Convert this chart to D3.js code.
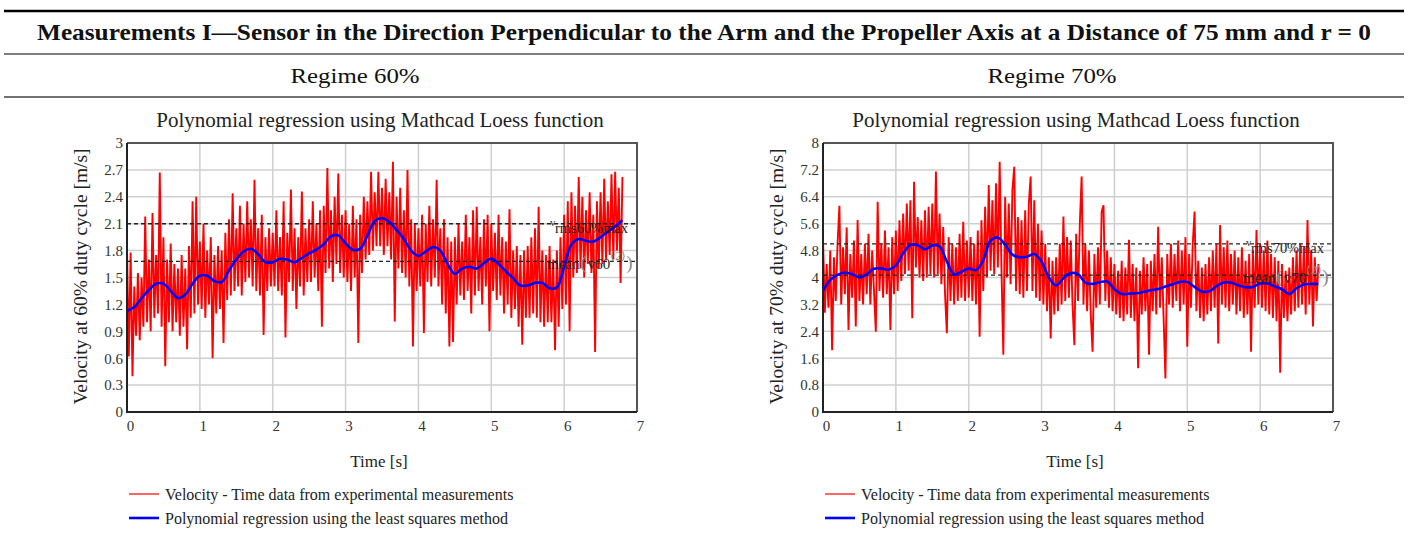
<!DOCTYPE html>
<html><head><meta charset="utf-8">
<script src="https://cdn.jsdelivr.net/npm/d3@7"></script>
<style>
body{margin:0;background:#fff}
svg{display:block}
text{font-family:"Liberation Serif","Times New Roman",serif}
</style>
</head><body>
<svg id="c" width="1408" height="538"></svg>
<script>
// ---------- text ----------
const pageTitle = "Measurements I\u2014Sensor in the Direction Perpendicular to the Arm and the Propeller Axis at a Distance of 75 mm and r = 0";
const regimeLabels = ["Regime 60%", "Regime 70%"];
const chartTitle = "Polynomial regression using Mathcad Loess function";
const yLabels = ["Velocity at 60% duty cycle [m/s]", "Velocity at 70% duty cycle [m/s]"];
const xLabel = "Time [s]";
const legendLabels = ["Velocity - Time data from experimental measurements", "Polynomial regression using the least squares method"];
const rmsNames = ["rms60%max", "rms70%max"];
const meanNames = ["v60", "v70"];

// ---------- ticks ----------
const xTicks = [0, 1, 2, 3, 4, 5, 6, 7];
const yTicks60 = [0, 0.3, 0.6, 0.9, 1.2, 1.5, 1.8, 2.1, 2.4, 2.7, 3];
const yTicks70 = [0, 0.8, 1.6, 2.4, 3.2, 4, 4.8, 5.6, 6.4, 7.2, 8];

// ---------- data ----------
const sampleStep = 0.025;   // s between measured samples
const fitStep = 0.1;        // s between regression points

const v60 = [
1.83,0.62,1.78,0.40,1.40,0.85,1.55,0.80,1.50,0.95,2.18,1.00,1.70,0.90,2.22,1.05,1.75,1.10,2.67,0.95,
1.95,0.51,1.70,1.00,1.88,0.90,1.65,1.00,1.60,0.85,1.75,0.95,1.60,0.70,1.85,1.05,2.35,1.10,2.40,1.20,
1.90,1.15,2.10,1.05,1.80,1.20,1.95,0.60,1.75,1.10,1.85,1.15,1.80,0.77,2.00,1.25,2.15,1.30,2.44,1.35,
2.05,1.40,2.30,1.30,2.10,1.45,2.35,1.50,2.15,1.40,2.59,1.35,2.05,1.30,2.20,0.86,1.95,1.35,2.05,1.40,
2.00,1.40,2.25,1.35,1.95,1.30,2.35,0.83,2.00,1.45,2.48,1.35,2.05,1.15,1.95,1.40,2.46,1.30,2.05,1.45,
2.15,1.45,2.35,1.50,2.10,1.35,2.25,0.95,2.30,1.55,2.72,1.60,2.25,1.45,2.40,1.65,2.66,1.55,2.20,1.50,
2.25,1.45,2.10,1.35,2.30,1.50,2.15,0.77,2.20,1.55,2.40,1.70,2.35,1.75,2.68,1.80,2.45,1.85,2.68,1.85,
2.50,1.75,2.60,1.85,2.45,1.70,2.79,1.01,2.40,1.60,2.50,1.55,2.25,1.50,2.70,1.40,2.15,0.73,2.10,1.35,
2.05,1.40,2.20,0.88,2.10,1.45,2.30,1.40,2.15,1.50,2.59,1.40,2.05,1.20,2.15,1.10,1.95,0.73,1.90,0.78,
1.95,1.20,2.10,1.30,1.90,1.25,2.20,1.35,1.95,1.10,2.25,1.30,2.29,1.35,1.95,1.20,2.15,1.40,2.20,0.90,
2.10,1.35,2.00,1.25,2.20,1.30,1.95,1.10,1.90,1.20,2.26,1.05,1.80,1.15,1.85,0.95,1.75,0.75,1.80,1.05,
1.85,1.05,1.95,1.10,2.05,1.05,2.29,1.00,1.80,0.95,1.75,1.00,1.85,1.00,1.70,0.69,1.80,0.95,1.95,1.15,
2.20,1.20,2.35,0.90,2.45,1.50,2.30,1.55,2.62,1.60,2.40,1.50,2.25,1.65,2.45,1.55,2.20,0.67,2.35,1.60,
2.45,1.65,2.60,1.70,2.35,1.75,2.65,1.70,2.68,1.80,2.50,1.44,2.62
];
const fit60 = [
1.13,1.17,1.27,1.36,1.43,1.43,1.35,1.27,1.31,1.43,
1.52,1.52,1.46,1.45,1.58,1.70,1.79,1.82,1.76,1.67,
1.67,1.71,1.70,1.67,1.72,1.77,1.81,1.87,1.96,1.97,
1.88,1.81,1.82,1.97,2.13,2.16,2.12,2.03,1.93,1.80,
1.74,1.79,1.84,1.80,1.65,1.54,1.60,1.62,1.60,1.66,
1.71,1.65,1.57,1.49,1.41,1.41,1.44,1.44,1.38,1.39,
1.62,1.87,1.93,1.91,1.90,1.95,2.01,2.07,2.14
];
const v70 = [
5.17,2.95,4.40,3.10,4.80,1.84,4.60,3.30,5.00,6.13,3.20,4.90,3.50,5.49,2.44,4.70,3.40,5.10,2.54,5.71,
3.30,4.70,3.20,5.00,3.50,5.30,3.20,4.80,3.60,2.39,6.25,3.60,5.00,3.40,5.40,3.50,4.90,2.44,5.20,3.50,
5.40,3.60,5.70,3.90,5.90,4.10,6.20,4.20,6.30,2.79,6.85,4.30,5.80,4.00,5.70,3.90,6.00,4.00,6.10,4.10,
6.20,4.00,7.15,4.10,5.90,3.80,5.50,3.50,2.34,5.20,3.30,5.00,3.20,4.90,3.30,5.30,3.40,5.66,3.30,5.10,
3.40,5.20,3.30,5.00,3.20,5.40,2.24,5.70,3.60,6.10,4.00,6.75,4.20,6.30,4.10,6.80,4.30,7.44,4.20,1.70,
6.40,4.00,6.20,3.80,6.60,7.29,3.60,5.80,3.50,5.70,3.40,6.00,3.60,6.20,7.00,3.60,6.30,3.40,5.60,3.30,
5.40,3.20,5.00,3.00,4.60,2.19,4.50,2.90,4.60,3.00,5.00,3.20,5.81,3.30,5.20,3.40,5.10,3.20,1.99,5.30,
3.30,5.60,7.00,3.20,5.00,3.00,4.80,2.90,1.79,4.70,3.10,4.90,3.20,5.96,6.15,3.30,4.80,3.10,4.60,3.00,
4.40,2.90,4.20,2.80,4.50,2.70,4.30,2.90,5.12,2.80,4.40,2.70,4.30,1.30,4.20,2.90,4.60,3.00,4.40,1.70,
4.50,3.00,4.70,2.90,5.51,3.10,4.60,2.80,1.00,4.70,3.20,5.00,3.10,4.70,3.30,5.10,3.00,4.80,3.20,5.20,
1.94,4.70,3.10,5.00,5.96,3.00,4.50,2.80,4.30,2.70,4.40,2.90,4.60,3.00,4.80,3.10,5.00,2.04,5.56,3.20,
4.90,3.10,5.10,3.00,4.70,3.20,4.80,2.90,4.60,3.00,4.90,2.80,4.50,2.90,4.70,1.79,4.80,3.10,5.41,3.20,
5.00,3.10,4.80,3.00,5.10,2.90,4.70,2.80,4.60,2.70,4.50,1.17,4.40,2.80,4.20,2.70,4.30,2.90,4.60,3.00,
4.80,3.10,5.00,3.20,4.90,2.90,5.71,3.20,4.80,2.54,4.60,3.30,4.40
];
const fit70 = [
3.61,3.93,4.08,4.15,4.10,4.00,4.10,4.26,4.27,4.23,
4.36,4.72,4.97,4.96,4.84,4.95,4.92,4.47,4.09,4.17,
4.27,4.22,4.52,5.10,5.19,4.97,4.68,4.60,4.62,4.70,
4.47,4.00,3.76,3.98,4.13,4.10,3.85,3.81,3.86,3.88,
3.65,3.51,3.52,3.53,3.57,3.62,3.66,3.73,3.80,3.87,
3.87,3.72,3.58,3.59,3.74,3.85,3.85,3.77,3.71,3.72,
3.82,3.82,3.74,3.65,3.51,3.68,3.79,3.81,3.81
];
const rmsValues = [2.10, 5.00];
const meanValues = [1.68, 4.07];

// ---------- drawing ----------
const svg = d3.select("#c");

// header table
svg.append("line").attr("x1",4).attr("x2",1404).attr("y1",11).attr("y2",11).attr("stroke","#000").attr("stroke-width",2.5);
svg.append("text").attr("x",37).attr("y",40).attr("font-size",23).attr("font-weight","bold").attr("fill","#111")
  .attr("textLength",1334).attr("lengthAdjust","spacingAndGlyphs").text(pageTitle);
svg.append("line").attr("x1",4).attr("x2",1404).attr("y1",54).attr("y2",54).attr("stroke","#555").attr("stroke-width",1.3);
svg.append("line").attr("x1",4).attr("x2",1404).attr("y1",97).attr("y2",97).attr("stroke","#444").attr("stroke-width",1.3);

const charts = [
  {left:127, right:637, regimeX:355, data:v60, fit:fit60, yMax:3, yTicks:yTicks60, idx:0},
  {left:823, right:1333, regimeX:1052, data:v70, fit:fit70, yMax:8, yTicks:yTicks70, idx:1}
];
const plotTop = 143, plotBottom = 412;

charts.forEach(c => {
  const g = svg.append("g");
  const x = d3.scaleLinear().domain([0, 7]).range([c.left, c.right]);
  const y = d3.scaleLinear().domain([0, c.yMax]).range([plotBottom, plotTop]);
  const cx = (c.left + c.right) / 2;

  g.append("text").attr("x", c.regimeX).attr("y", 83).attr("text-anchor","middle")
    .attr("font-size", 21).attr("fill","#111").attr("textLength",129).attr("lengthAdjust","spacingAndGlyphs")
    .text(regimeLabels[c.idx]);

  g.append("text").attr("x", cx - 2).attr("y", 127).attr("text-anchor","middle")
    .attr("font-size", 21).attr("fill","#222").text(chartTitle);

  // grid
  g.append("g").selectAll("line").data(xTicks.slice(1, -1)).join("line")
    .attr("x1", d => x(d)).attr("x2", d => x(d)).attr("y1", plotTop).attr("y2", plotBottom)
    .attr("stroke", "#cfcfcf").attr("stroke-width", 1.5);
  g.append("g").selectAll("line").data(c.yTicks.slice(1, -1)).join("line")
    .attr("x1", c.left).attr("x2", c.right).attr("y1", d => y(d)).attr("y2", d => y(d))
    .attr("stroke", "#cfcfcf").attr("stroke-width", 1.5);

  // measured data
  const line = d3.line().x((d, i) => x(i * sampleStep)).y(d => y(d));
  g.append("path").datum(c.data).attr("d", line).attr("fill","none")
    .attr("stroke", "#ff0000").attr("stroke-width", 1.9).attr("stroke-linejoin","bevel");

  // dashed reference lines
  [rmsValues[c.idx], meanValues[c.idx]].forEach(v => {
    g.append("line").attr("x1", c.left).attr("x2", c.right).attr("y1", y(v)).attr("y2", y(v))
      .attr("stroke", "#222").attr("stroke-width", 1.4).attr("stroke-dasharray", "4,3");
  });

  // regression
  const fitLine = d3.line().x((d, i) => x(i * fitStep)).y(d => y(d)).curve(d3.curveCatmullRom);
  g.append("path").datum(c.fit).attr("d", fitLine).attr("fill","none")
    .attr("stroke", "#0000ff").attr("stroke-width", 2.6);

  // labels of dashed lines
  const ry = y(rmsValues[c.idx]), my = y(meanValues[c.idx]);
  const lx = c.right - 82;
  g.append("text").attr("x", lx - 5).attr("y", ry + 2).attr("font-size", 11).attr("fill","#333").text("v");
  g.append("text").attr("x", lx).attr("y", ry + 9).attr("font-size", 15).attr("fill","#222")
    .attr("textLength", 73).attr("lengthAdjust","spacingAndGlyphs").text(rmsNames[c.idx]);
  const mt = g.append("text").attr("x", lx - 8).attr("y", my + 8).attr("font-size", 15).attr("fill","#222");
  mt.append("tspan").text("mean");
  mt.append("tspan").attr("fill","#888").attr("font-size", 19).attr("dx", 1).text("(");
  mt.append("tspan").attr("dx", 1).text(meanNames[c.idx]);
  mt.append("tspan").attr("fill","#888").attr("font-size", 12).attr("dy", -9).text("\u27E82\u27E9");
  mt.append("tspan").attr("fill","#888").attr("font-size", 19).attr("dy", 9).text(")");

  // frame
  g.append("path").attr("d", `M${c.left},${plotTop}H${c.right}V${plotBottom}`).attr("fill","none")
    .attr("stroke","#555").attr("stroke-width",2);
  g.append("path").attr("d", `M${c.left},${plotTop}V${plotBottom}H${c.right}`).attr("fill","none")
    .attr("stroke","#222").attr("stroke-width",2);

  // axes (labels only)
  const ya = g.append("g").attr("transform", `translate(${c.left - 3},0)`)
    .call(d3.axisLeft(y).tickValues(c.yTicks).tickSize(0).tickPadding(1).tickFormat(d => String(d)));
  ya.select(".domain").remove();
  ya.selectAll("text").attr("font-family", '"Liberation Serif",serif').attr("font-size", 15).attr("fill", "#333");
  const xa = g.append("g").attr("transform", `translate(3,${plotBottom + 6})`)
    .call(d3.axisBottom(x).tickValues(xTicks).tickSize(0).tickPadding(2).tickFormat(d => String(d)));
  xa.select(".domain").remove();
  xa.selectAll("text").attr("font-family", '"Liberation Serif",serif').attr("font-size", 15).attr("fill", "#333");

  // axis titles
  g.append("text").attr("transform", `translate(${c.left - 40},${(plotTop + plotBottom) / 2 - 1}) rotate(-90)`)
    .attr("text-anchor","middle").attr("font-size", 19.5).attr("fill","#222").text(yLabels[c.idx]);
  g.append("text").attr("x", cx - 3).attr("y", 467).attr("text-anchor","middle")
    .attr("font-size", 17).attr("fill","#222").text(xLabel);

  // legend
  const lg = g.append("g");
  lg.append("line").attr("x1", c.left + 2).attr("x2", c.left + 32).attr("y1", 494).attr("y2", 494)
    .attr("stroke", "#ff0000").attr("stroke-width", 1.2);
  lg.append("line").attr("x1", c.left + 2).attr("x2", c.left + 32).attr("y1", 518).attr("y2", 518)
    .attr("stroke", "#0000ff").attr("stroke-width", 2.6);
  lg.append("text").attr("x", c.left + 38).attr("y", 500).attr("font-size", 16).attr("fill","#222").text(legendLabels[0]);
  lg.append("text").attr("x", c.left + 38).attr("y", 524).attr("font-size", 16).attr("fill","#222").text(legendLabels[1]);
});
</script>
</body></html>
